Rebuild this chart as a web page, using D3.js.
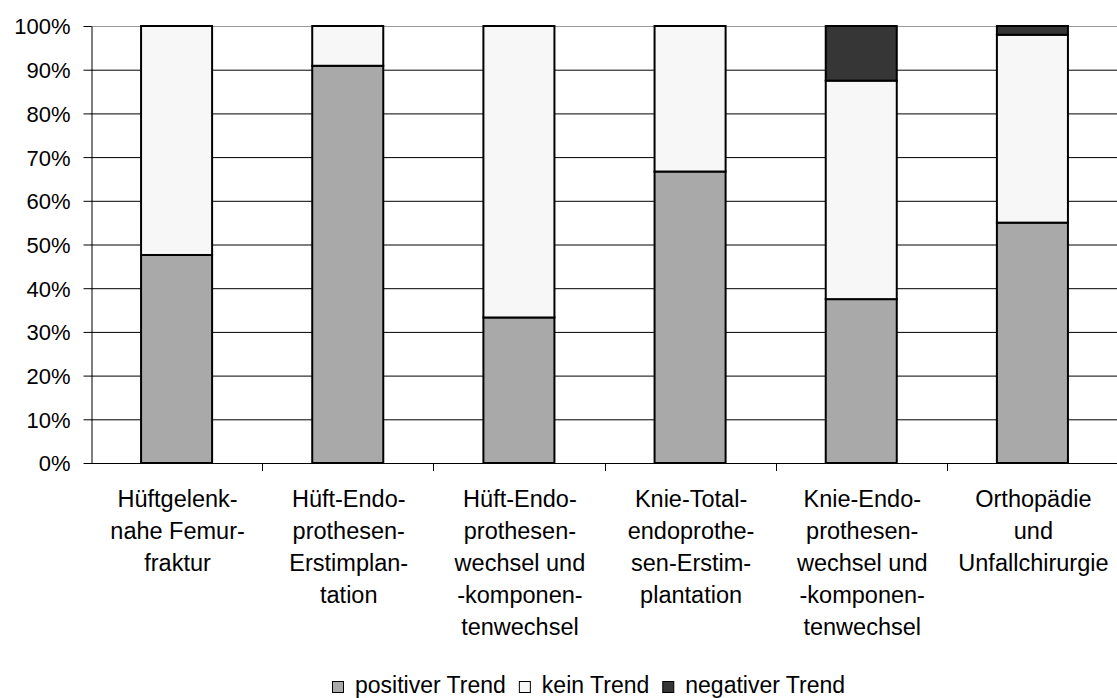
<!DOCTYPE html>
<html><head><meta charset="utf-8">
<script src="https://cdn.jsdelivr.net/npm/d3@7"></script>
<style>body{margin:0;background:#fff}svg{display:block}text{font-family:"Liberation Sans",Arial,sans-serif;fill:#000}</style>
</head><body><svg id="c" width="1117" height="698"></svg>
<script>
const categories = [
  ["Hüftgelenk-","nahe Femur-","fraktur"],
  ["Hüft-Endo-","prothesen-","Erstimplan-","tation"],
  ["Hüft-Endo-","prothesen-","wechsel und","-komponen-","tenwechsel"],
  ["Knie-Total-","endoprothe-","sen-Erstim-","plantation"],
  ["Knie-Endo-","prothesen-","wechsel und","-komponen-","tenwechsel"],
  ["Orthopädie","und","Unfallchirurgie"]
];
const positiver = [47.6, 90.9, 33.3, 66.7, 37.5, 55.0];
const kein      = [52.4, 9.1, 66.7, 33.3, 50.0, 43.0];
const negativer = [0, 0, 0, 0, 12.5, 2.0];
const seriesNames = ["positiver Trend","kein Trend","negativer Trend"];
const seriesColors = ["#a9a9a9","#f7f7f7","#363636"];
const yTicks = [0,10,20,30,40,50,60,70,80,90,100];

const svg = d3.select("#c");
const L = 91, R = 1118, T = 26, B = 463;
const idx = categories.map((d,i)=>i);
const x = d3.scaleBand().domain(idx).range([L,R]).paddingInner(0.585).paddingOuter(0.2925);
const y = d3.scaleLinear().domain([0,100]).range([B,T]);

// gridlines
svg.append("g").selectAll("line").data(yTicks.filter(v=>v>0)).join("line")
  .attr("x1",L).attr("x2",R).attr("y1",d=>y(d)+0.5).attr("y2",d=>y(d)+0.5)
  .attr("stroke",d=>d===100?"#999":"#000").attr("stroke-width",1);

// stacked bars
const rows = idx.map(i=>({i, p:positiver[i], k:kein[i], n:negativer[i]}));
const stack = d3.stack().keys(["p","k","n"])(rows);
stack.forEach((s,si)=>{
  svg.append("g").selectAll("rect").data(s.filter(d=>d[1]-d[0]>0)).join("rect")
    .attr("x",d=>x(d.data.i)).attr("width",x.bandwidth())
    .attr("y",d=>y(d[1])).attr("height",d=>y(d[0])-y(d[1]))
    .attr("fill",seriesColors[si]).attr("stroke","#000").attr("stroke-width",2);
});

// y axis
const ya = svg.append("g").attr("transform",`translate(${L+0.5},0)`)
  .call(d3.axisLeft(y).tickValues(yTicks).tickFormat(d=>d+"%").tickSize(8).tickSizeOuter(0));
ya.attr("font-size",null).attr("font-family",null);
ya.select(".domain").attr("stroke","#000");
ya.selectAll(".tick line").attr("stroke","#000");
ya.selectAll(".tick text").attr("font-size","22px").attr("x",-21).attr("dy","0.36em").attr("fill","#000");

// x axis
const xb = svg.append("g");
xb.append("line").attr("x1",L).attr("x2",R).attr("y1",B+0.5).attr("y2",B+0.5).attr("stroke","#000");
const step = x.step();
xb.selectAll("line.t").data(d3.range(1,categories.length+1)).join("line").attr("class","t")
  .attr("x1",d=>Math.round(L+d*step)+0.5).attr("x2",d=>Math.round(L+d*step)+0.5)
  .attr("y1",B).attr("y2",B+8).attr("stroke","#000");
idx.forEach(i=>{
  const cx = x(i)+x.bandwidth()/2+1;
  const t = xb.append("text").attr("text-anchor","middle").attr("font-size","23.5px");
  categories[i].forEach((ln,j)=>{
    t.append("tspan").attr("x",cx).attr("y",507+j*32).text(ln);
  });
});

// legend
const lg = svg.append("g");
let lx = 332;
const ly = 693;
seriesNames.forEach((nm,i)=>{
  lg.append("rect").attr("x",lx+0.5).attr("y",ly-11.5).attr("width",11).attr("height",11)
    .attr("fill",seriesColors[i]).attr("stroke","#000").attr("stroke-width",1);
  const t = lg.append("text").attr("x",lx+23).attr("y",ly).attr("font-size","23px").text(nm);
  lx += 23 + t.node().getComputedTextLength() + 13;
});
</script></body></html>
